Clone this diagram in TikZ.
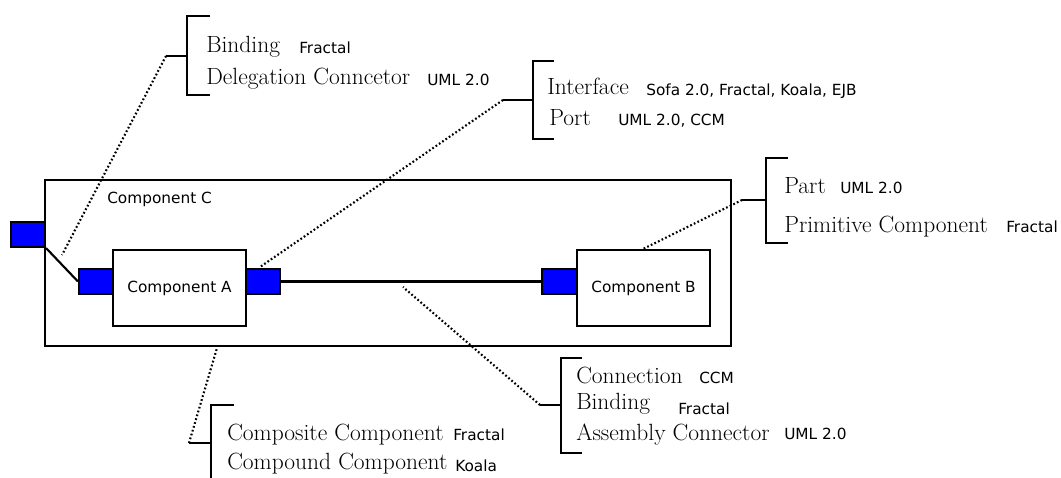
\documentclass[tikz,border=0pt]{standalone}
\usepackage{fontspec}
\usetikzlibrary{fit}
\newfontfamily\labsans{DejaVu Sans}
\begin{document}
\begin{tikzpicture}[x=0.75pt,y=-0.75pt,
  compbox/.style={draw,line width=1.6pt,inner sep=0pt},
  portbox/.style={draw,line width=1.6pt,inner sep=0pt,fill={rgb,255:red,0;green,0;blue,255}},
  wire/.style={line width=1.6pt},
  brk/.style={line width=1.8pt},
  dotline/.style={line width=1.6pt,dash pattern=on 1.3pt off 1.7pt},
  term/.style={anchor=base west,inner sep=0pt,font=\fontsize{17.6}{20}\selectfont},
  src/.style={anchor=base west,inner sep=0pt,font=\labsans\fontsize{11.5}{13}\selectfont},
  cname/.style={inner sep=0pt,font=\labsans\fontsize{11.5}{13}\selectfont}]
\useasboundingbox (0,0) rectangle (1061,478);
% components
\node[compbox,fit={(45,180) (731,346)}] (C) {};
\node[compbox,fit={(113,250) (246,326)}] (A) {};
\node[compbox,fit={(577,250) (710,326)}] (B) {};
\node[portbox,fit={(11,222) (45,247)}] (pC) {};
\node[portbox,fit={(79,269) (113,294)}] (pA1) {};
\node[portbox,fit={(246,269) (280,294)}] (pA2) {};
\node[portbox,fit={(542,269) (577,294)}] (pB) {};
\node[cname,anchor=base west] (tC) at (107,203) {Component C};
\node[cname] (tA) at (A.center) {Component A};
\node[cname] (tB) at (B.center) {Component B};
\draw[wire] (pC.south east) -- (pA1.west);
\draw[wire] (pA2.east) -- (pB.west);
% bracket 1
\draw[brk] (210,16) -- (187,16) -- (187,95) -- (210,95);
\draw[brk] (166,56) coordinate (s1) -- (187,56);
\coordinate (e1) at (62,255);
\draw[dotline] (s1) -- (e1);
\node[term] (t11) at (206,53) {Binding};
\node[src] (l11) at (299,54) {Fractal};
\node[term] (t12) at (206,85) {Delegation Conncetor};
\node[src] (l12) at (427,86) {UML 2.0};
% bracket 2
\draw[brk] (554,61) -- (533,61) -- (533,139) -- (554,139);
\draw[brk] (503,100) coordinate (s2) -- (533,100);
\coordinate (e2) at (260,267);
\draw[dotline] (s2) -- (e2);
\node[term] (t21) at (547,95) {Interface};
\node[src] (l21) at (646,96) {Sofa 2.0, Fractal, Koala, EJB};
\node[term] (t22) at (549,126) {Port};
\node[src] (l22) at (618,126) {UML 2.0, CCM};
% bracket 3
\draw[brk] (788,158) -- (766,158) -- (766,243) -- (788,243);
\draw[brk] (742,200) coordinate (s3) -- (766,200);
\coordinate (e3) at (643,249);
\draw[dotline] (s3) -- (e3);
\node[term] (t31) at (784,193) {Part};
\node[src] (l31) at (840,193) {UML 2.0};
\node[term] (t32) at (784,232) {Primitive Component};
\node[src] (l32) at (1006,232) {Fractal};
% bracket 4
\draw[brk] (582,358) -- (561,358) -- (561,453) -- (582,453);
\draw[brk] (540,405) coordinate (s4) -- (561,405);
\coordinate (e4) at (403,287);
\draw[dotline] (s4) -- (e4);
\node[term] (t41) at (576,383) {Connection};
\node[src] (l41) at (699,383) {CCM};
\node[term] (t42) at (576,409) {Binding};
\node[src] (l42) at (678,414) {Fractal};
\node[term] (t43) at (576,440) {Assembly Connector};
\node[src] (l43) at (784,439) {UML 2.0};
% bracket 5
\draw[brk] (234,405) -- (211,405) -- (211,478);
\draw[brk] (189,443) coordinate (s5) -- (211,443);
\coordinate (e5) at (217,348);
\draw[dotline] (s5) -- (e5);
\node[term] (t51) at (227,440) {Composite Component};
\node[src] (l51) at (453,440) {Fractal};
\node[term] (t52) at (227,469) {Compound Component};
\node[src] (l52) at (455,471) {Koala};
\end{tikzpicture}
\end{document}
